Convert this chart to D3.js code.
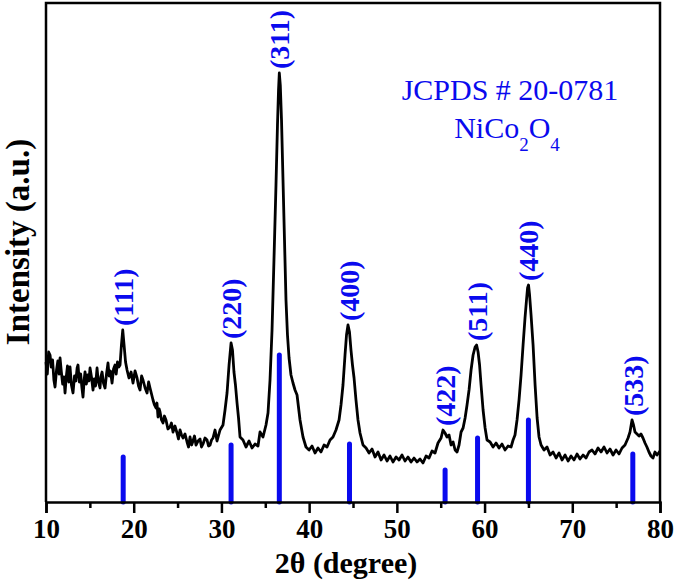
<!DOCTYPE html>
<html>
<head>
<meta charset="utf-8">
<script src="https://cdn.jsdelivr.net/npm/d3@7"></script>
<style>
body { margin: 0; background: #fff; }
text { font-family: "Liberation Serif", "Times New Roman", serif; }
</style>
</head>
<body>
<script>
// XRD pattern (2theta in degrees, intensity in a.u.)
var twoTheta = [10.00,10.15,10.30,10.46,10.60,10.75,10.90,11.03,11.20,11.35,11.50,11.60,11.75,11.90,12.05,12.17,12.30,12.45,12.60,12.74,12.90,13.08,13.25,13.40,13.55,13.65,13.80,13.95,14.10,14.22,14.35,14.45,14.60,14.75,14.90,15.02,15.20,15.36,15.50,15.65,15.82,15.95,16.16,16.25,16.39,16.55,16.73,16.90,17.07,17.20,17.35,17.53,17.70,17.87,18.00,18.15,18.30,18.44,
  18.60,18.75,18.90,19.07,19.24,19.46,19.70,19.92,20.15,20.38,20.55,20.72,20.90,21.06,21.30,21.52,21.70,21.86,22.03,22.20,22.37,22.54,22.65,22.77,22.90,23.00,23.17,23.34,23.50,23.68,23.90,24.14,24.30,24.48,24.70,24.94,25.10,25.28,25.45,25.62,25.85,26.08,26.25,26.42,26.60,26.76,26.93,27.10,27.33,27.56,27.73,27.90,28.13,28.36,28.53,28.70,28.87,29.04,29.27,29.50,29.84,30.18,30.41,30.64,30.87,31.10,31.26,31.43,31.60,31.78,31.95,32.12,32.46,32.80,33.15,33.49,33.83,34.17,34.40,34.74,35.08,35.31,35.54,35.77,35.99,36.22,36.39,36.51,36.60,36.71,36.85,37.02,37.19,37.36,37.53,37.71,37.93,38.16,38.39,38.62,38.96,39.30,39.64,39.99,40.33,40.67,41.01,41.35,41.70,42.04,42.38,42.72,43.06,43.41,43.63,43.86,44.09,44.26,44.43,44.60,44.77,44.94,45.12,45.34,45.57,45.80,46.14,46.49,46.83,47.17,47.51,47.85,48.20,48.54,48.88,49.22,49.56,49.91,50.25,50.59,50.93,51.27,51.62,51.96,52.30,52.64,52.98,53.33,53.67,54.01,54.35,54.69,55.04,55.26,55.49,55.72,55.95,56.18,56.41,56.64,56.86,57.09,57.32,57.55,57.78,58.00,58.23,58.46,58.69,58.92,59.09,59.26,59.43,59.60,59.83,60.06,60.28,60.63,60.97,61.31,61.65,61.99,62.33,62.68,63.02,63.25,63.47,63.70,63.93,64.16,64.39,64.61,64.78,64.90,65.01,65.13,65.30,65.53,65.76,65.99,66.21,66.44,66.78,67.12,67.47,67.81,68.15,68.49,68.83,69.18,69.52,69.86,70.20,70.54,70.88,71.23,71.57,71.91,72.25,72.59,72.94,73.28,73.62,73.96,74.30,74.65,74.99,75.33,75.67,76.01,76.36,76.58,76.81,76.98,77.15,77.38,77.61,77.83,78.06,78.29,78.51,78.74,78.97,79.20,79.43,79.66,80.00];
var intensity = [140,128,150,147,135,142,122,115,132,141,128,144,130,118,125,109,124,136,120,135,117,109,126,121,134,137,120,128,114,105,122,130,118,127,121,134,124,112,123,116,134,121,114,125,130,119,114,128,139,126,131,119,133,137,128,140,135,137,
  157,172,157,140,132,124,130,119,131,124,116,112,126,122,114,109,120,114,108,102,97,94,99,85,93,90,82,79,86,82,73,75,79,70,76,69,63,72,67,64,68,60,55,65,57,61,66,57,61,63,55,58,64,62,56,57,62,64,72,61,72,77,92,109,137,159,152,130,117,99,84,65,62,55,61,54,58,56,70,65,77,89,122,172,242,317,377,412,429,417,382,322,262,202,167,144,127,119,112,107,82,65,55,52,56,49,54,50,57,55,62,65,72,82,97,117,147,167,177,170,152,137,124,102,82,69,57,54,49,53,45,50,42,47,41,46,40,45,42,47,41,45,40,44,40,43,39,46,44,51,49,59,64,72,69,65,67,57,60,52,50,57,70,74,84,97,112,132,147,155,157,150,137,117,92,74,62,60,55,59,54,58,52,56,55,62,67,82,102,127,157,184,202,214,217,207,187,157,117,84,65,57,52,55,47,50,44,49,42,47,41,46,42,48,43,47,44,50,52,48,54,50,55,49,53,47,52,48,54,57,64,70,82,77,70,68,66,68,64,59,55,50,46,44,50,47,51];

// JCPDS # 20-0781 reference lines
var refPos = [18.8, 31.1, 36.6, 44.6, 55.5, 59.2, 65.0, 76.9];
var refInt = [47, 59, 149, 60, 34, 66, 84, 50];
var hkl = ["(111)", "(220)", "(311)", "(400)", "(422)", "(511)", "(440)", "(533)"];

var xTicks = [10, 20, 30, 40, 50, 60, 70, 80];
var xMinorTicks = [15, 25, 35, 45, 55, 65, 75];

var width = 675, height = 581;
var margin = { top: 3, right: 15, bottom: 79, left: 46 };
var blue = "#0a0aee";

var svg = d3.select("body").append("svg")
    .attr("width", width)
    .attr("height", height);

var x = d3.scaleLinear().domain([10, 80]).range([margin.left, width - margin.right]);
var y = d3.scaleLinear().domain([0, 499]).range([height - margin.bottom, margin.top]);

var pattern = twoTheta.map(function (d, i) {
    return { t: d, v: intensity[i] };
});

// reference sticks
svg.selectAll(".stick")
    .data(refPos)
    .enter().append("line")
    .attr("class", "stick")
    .attr("x1", function (d) { return x(d); })
    .attr("x2", function (d) { return x(d); })
    .attr("y1", y(0))
    .attr("y2", function (d, i) { return y(refInt[i]) + 2; })
    .attr("stroke", blue)
    .attr("stroke-width", 5)
    .attr("stroke-linecap", "round");

// pattern line
var line = d3.line()
    .x(function (d) { return x(d.t); })
    .y(function (d) { return y(d.v); });

svg.append("path")
    .datum(pattern)
    .attr("d", line)
    .attr("fill", "none")
    .attr("stroke", "#000")
    .attr("stroke-width", 2.8)
    .attr("stroke-linejoin", "round");

// hkl labels, sitting above the local peak max
function peakMax(pos) {
    var near = pattern.filter(function (d) { return Math.abs(d.t - pos) < 0.6; });
    return d3.max(near, function (d) { return d.v; });
}

svg.selectAll(".hkl")
    .data(hkl)
    .enter().append("text")
    .attr("class", "hkl")
    .attr("transform", function (d, i) {
        return "translate(" + x(refPos[i]) + "," + (y(peakMax(refPos[i])) - 4) + ") rotate(-90)";
    })
    .attr("dy", "0.35em")
    .attr("text-anchor", "start")
    .attr("fill", blue)
    .style("font-size", "28px")
    .style("font-weight", "bold")
    .text(function (d) { return d; });

// frame
var x0 = x(10), x1 = x(80), yTop = y(499), yBot = y(0);
svg.append("path")
    .attr("d", "M" + x0 + "," + yBot + "V" + yTop + "H" + x1 + "V" + yBot)
    .attr("fill", "none")
    .attr("stroke", "#000")
    .attr("stroke-width", 2.5);

// x axis
var xAxis = svg.append("g")
    .attr("transform", "translate(0," + yBot + ")")
    .call(d3.axisBottom(x).tickValues(xTicks).tickSize(11).tickPadding(6).tickFormat(d3.format("d")));
xAxis.select(".domain").attr("stroke-width", 2.5);
xAxis.selectAll(".tick line").attr("stroke-width", 2.5);
xAxis.selectAll(".tick text")
    .style("font-family", "'Liberation Serif', 'Times New Roman', serif")
    .style("font-size", "27px")
    .style("font-weight", "bold")
    .attr("fill", "#000");

var xMinor = svg.append("g")
    .attr("transform", "translate(0," + yBot + ")")
    .call(d3.axisBottom(x).tickValues(xMinorTicks).tickSize(6).tickFormat(""));
xMinor.select(".domain").remove();
xMinor.selectAll(".tick line").attr("stroke-width", 2.5);

// axis titles
svg.append("text")
    .attr("x", 346)
    .attr("y", 573)
    .attr("text-anchor", "middle")
    .style("font-size", "30px")
    .style("font-weight", "bold")
    .text("2θ (degree)");

svg.append("text")
    .attr("transform", "translate(29,242) rotate(-90)")
    .attr("text-anchor", "middle")
    .style("font-size", "33px")
    .style("font-weight", "bold")
    .text("Intensity (a.u.)");

// reference card note
svg.append("text")
    .attr("x", 510)
    .attr("y", 100)
    .attr("text-anchor", "middle")
    .attr("fill", blue)
    .style("font-size", "30px")
    .text("JCPDS # 20-0781");

var formula = svg.append("text")
    .attr("x", 507)
    .attr("y", 138)
    .attr("text-anchor", "middle")
    .attr("fill", blue)
    .style("font-size", "30px");
formula.append("tspan").text("NiCo");
formula.append("tspan").attr("dy", 13).style("font-size", "19px").text("2");
formula.append("tspan").attr("dy", -13).text("O");
formula.append("tspan").attr("dy", 13).style("font-size", "19px").text("4");
</script>
</body>
</html>
